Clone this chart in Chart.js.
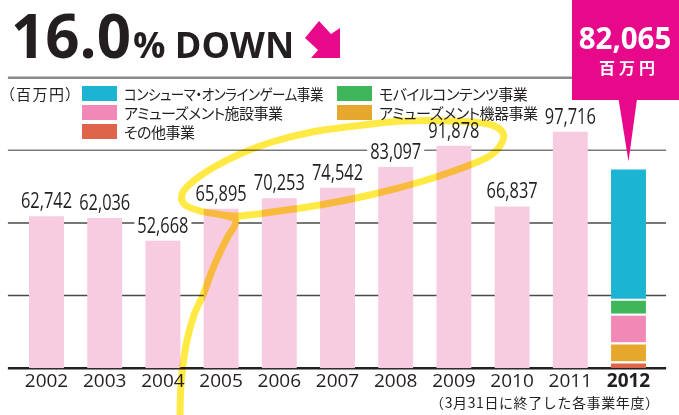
<!DOCTYPE html>
<html lang="ja">
<head>
  <meta charset="UTF-8">
  <title>売上高の推移</title>
  <script src="https://cdn.jsdelivr.net/npm/chart.js"></script>
  <style>
    body { margin: 0; background: #fff; }
    #wrap { position: relative; width: 679px; height: 415px; }
    #legend { position: absolute; left: 0; top: 0; font-family: "Noto Sans CJK JP", sans-serif;
      font-size: 15px; color: #231f20; font-feature-settings: "palt"; letter-spacing: -0.5px; }
    #legend div { position: absolute; white-space: nowrap; line-height: 19px; height: 19px; }
    #legend .box { display: inline-block; width: 35px; height: 15px; vertical-align: top; margin-top: 2px; }
    #legend .label { display: inline-block; margin-left: 7px; transform-origin: left center; }
    #legend .unit { font-size: 15px; letter-spacing: 1.5px; }
  </style>
</head>
<body>
  <div id="wrap">
    <canvas id="salesChart" width="679" height="415"></canvas>
    <div id="legend"></div>
  </div>

  <script>
    // data (百万円)
    const years = ['2002', '2003', '2004', '2005', '2006', '2007', '2008', '2009', '2010', '2011', '2012'];
    const annualSales = [62742, 62036, 52668, 65895, 70253, 74542, 83097, 91878, 66837, 97716, null];
    const segmentNames = ['その他事業', 'アミューズメント機器事業', 'アミューズメント施設事業', 'モバイルコンテンツ事業', 'コンシューマ・オンラインゲーム事業'];
    const segments2012 = [2800, 7800, 11900, 6150, 53415];
    const total2012 = 82065;
    const yTicks = [0, 30000, 60000, 90000, 120000];
    const headline = '16.0';
    const headlineRest = '% DOWN';
    const unitLabel = '（百万円）';
    const unitShort = '百万円';
    const footnote = '（3月31日に終了した各事業年度）';

    const segColors = ['#de654a', '#e6a82c', '#f288b6', '#3fb65a', '#1bb5d3'];
    const ink = '#231f20';
    const magenta = '#e8098a';
    const jp = '"Noto Sans CJK JP", "Noto Sans", sans-serif';
    const num = '"Open Sans", "Noto Sans", sans-serif';

    // legend (HTML so the kana can use proportional widths)
    const legendEl = document.getElementById('legend');
    const unitDiv = document.createElement('div');
    unitDiv.className = 'unit';
    unitDiv.textContent = unitLabel;
    unitDiv.style.left = '7px';
    unitDiv.style.top = '83.5px';
    legendEl.appendChild(unitDiv);
    const cols = [[4, 2, 0], [3, 1]];
    const colX = [82, 337];
    cols.forEach((col, c) => {
      col.forEach((k, r) => {
        const item = document.createElement('div');
        item.style.left = colX[c] + 'px';
        item.style.top = (83.5 + r * 19.2) + 'px';
        const box = document.createElement('span');
        box.className = 'box';
        box.style.background = segColors[k];
        const label = document.createElement('span');
        label.className = 'label';
        label.textContent = segmentNames[k];
        item.appendChild(box);
        item.appendChild(label);
        legendEl.appendChild(item);
        // squeeze a label that would run into the next column
        const maxW = c === 0 ? colX[1] - colX[0] - 56 : 679 - colX[1] - 150;
        const w = label.getBoundingClientRect().width;
        if (w > maxW) label.style.transform = 'scaleX(' + (maxW / w) + ')';
      });
    });

    function txt(ctx, s, x, y, font, color, align, sx, base, spacing) {
      ctx.save();
      ctx.font = font;
      ctx.fillStyle = color;
      ctx.textAlign = align || 'left';
      ctx.textBaseline = base || 'alphabetic';
      ctx.letterSpacing = spacing || '0px';
      ctx.translate(x, y);
      ctx.scale(sx || 1, 1);
      ctx.fillText(s, 0, 0);
      ctx.restore();
    }

    const datasets = [{
      label: '売上高',
      data: annualSales,
      backgroundColor: '#f7cbe0',
      borderWidth: 0
    }];
    segmentNames.forEach((name, i) => {
      datasets.push({
        label: name,
        data: years.map((y, j) => j === years.length - 1 ? segments2012[i] : null),
        backgroundColor: segColors[i],
        borderColor: '#fff',
        borderWidth: i === segmentNames.length - 1 ? 0 : { top: 2, left: 0, right: 0, bottom: 0 }
      });
    });

    const deco = {
      id: 'deco',
      beforeDatasetsDraw(chart) {
        const ctx = chart.ctx;
        const ys = chart.scales.y;
        const area = chart.chartArea;
        yTicks.forEach(v => {
          const y = ys.getPixelForValue(v);
          ctx.save();
          ctx.beginPath();
          if (v === 0) { ctx.strokeStyle = ink; ctx.lineWidth = 2.5; }
          else if (v === 120000) { ctx.strokeStyle = '#8a8a8a'; ctx.lineWidth = 2.5; }
          else if (v === 90000) { ctx.strokeStyle = '#7a7a7a'; ctx.lineWidth = 1.5; }
          else { ctx.strokeStyle = '#4a4a4a'; ctx.lineWidth = 1.5; }
          ctx.moveTo(area.left - 9.5, y);
          ctx.lineTo(area.right + 8.5, y);
          ctx.stroke();
          ctx.restore();
        });
      },
      afterDatasetsDraw(chart) {
        const ctx = chart.ctx;
        const meta = chart.getDatasetMeta(0);
        annualSales.forEach((v, i) => {
          if (v == null) return;
          const bar = meta.data[i];
          const s = v.toLocaleString('en-US');
          const font = '21px ' + num;
          ctx.save();
          ctx.font = font;
          const w = ctx.measureText(s).width * 0.78;
          ctx.fillStyle = '#fff';
          ctx.fillRect(bar.x - w / 2 - 3, bar.y - 26, w + 6, 20);
          ctx.restore();
          txt(ctx, s, bar.x, bar.y - 8, font, ink, 'center', 0.78);
        });
      },
      afterDraw(chart) {
        const ctx = chart.ctx;
        const area = chart.chartArea;

        // headline
        txt(ctx, headline, 11, 57.5, 'bold 60px ' + num, ink, 'left');
        txt(ctx, headlineRest, 133, 57.5, 'bold 36px ' + num, ink, 'left');
        ctx.save();
        ctx.fillStyle = magenta;
        ctx.beginPath();
        ctx.moveTo(319, 21); ctx.lineTo(331, 34); ctx.lineTo(340, 28);
        ctx.lineTo(340, 58); ctx.lineTo(311, 58); ctx.lineTo(318, 50);
        ctx.lineTo(305, 38); ctx.closePath();
        ctx.fill();
        ctx.restore();

        // footnote
        txt(ctx, footnote, area.right + 2, 403, '14px ' + jp, ink, 'right', 1, 'middle', '0.6px');

        // callout
        const last = chart.getDatasetMeta(segmentNames.length).data[years.length - 1];
        const topBar = chart.scales.y.getPixelForValue(total2012);
        ctx.save();
        ctx.fillStyle = magenta;
        ctx.fillRect(572, 0, 120, 100);
        ctx.beginPath();
        ctx.moveTo(last.x - 10, 99);
        ctx.lineTo(last.x + 8.5, 99);
        ctx.lineTo(last.x, topBar - 8);
        ctx.closePath();
        ctx.fill();
        ctx.restore();
        txt(ctx, total2012.toLocaleString('en-US'), 625, 49, 'bold 31px ' + num, '#fff', 'center', 0.95);
        txt(ctx, unitShort, 629, 68, 'bold 16px ' + jp, '#fff', 'center', 1, 'middle', '4px');

        // hand-drawn highlighter loop
        const pts = [[180, 418], [181, 385], [186, 345], [194, 315], [203, 295], [214, 266], [226, 240], [236, 221],
          [222, 215], [200, 211], [184, 204], [183, 192], [196, 179], [216, 166], [240, 154], [272, 142], [312, 132],
          [355, 126], [403, 121], [453, 121], [488, 124], [503, 133], [500, 146], [488, 157], [462, 168], [420, 182],
          [370, 195], [320, 205], [272, 212], [238, 216], [222, 215]];
        ctx.save();
        ctx.globalCompositeOperation = 'multiply';
        ctx.strokeStyle = '#ffea45';
        ctx.lineWidth = 7;
        ctx.lineCap = 'round';
        ctx.lineJoin = 'round';
        ctx.beginPath();
        ctx.moveTo(pts[0][0], pts[0][1]);
        for (let i = 0; i < pts.length - 1; i++) {
          const p0 = pts[Math.max(i - 1, 0)], p1 = pts[i], p2 = pts[i + 1], p3 = pts[Math.min(i + 2, pts.length - 1)];
          ctx.bezierCurveTo(p1[0] + (p2[0] - p0[0]) / 6, p1[1] + (p2[1] - p0[1]) / 6,
            p2[0] - (p3[0] - p1[0]) / 6, p2[1] - (p3[1] - p1[1]) / 6, p2[0], p2[1]);
        }
        ctx.stroke();
        ctx.restore();
      }
    };

    new Chart(document.getElementById('salesChart'), {
      type: 'bar',
      data: { labels: years, datasets: datasets },
      options: {
        responsive: false,
        animation: false,
        devicePixelRatio: 1,
        categoryPercentage: 1.0,
        barPercentage: 0.6,
        layout: { padding: { top: 77.7, left: 17.4, right: 21.4, bottom: 20 } },
        plugins: { legend: { display: false }, tooltip: { enabled: false } },
        scales: {
          x: {
            stacked: true,
            grid: { display: false, drawTicks: false },
            border: { display: false },
            ticks: {
              padding: 2,
              color: ink,
              font: ctx => ({ family: num, size: 19, weight: ctx.index === years.length - 1 ? 'bold' : 'normal' })
            }
          },
          y: {
            stacked: true,
            display: false,
            min: 0,
            max: 120000,
            ticks: { stepSize: 30000 }
          }
        }
      },
      plugins: [deco]
    });
  </script>
</body>
</html>
